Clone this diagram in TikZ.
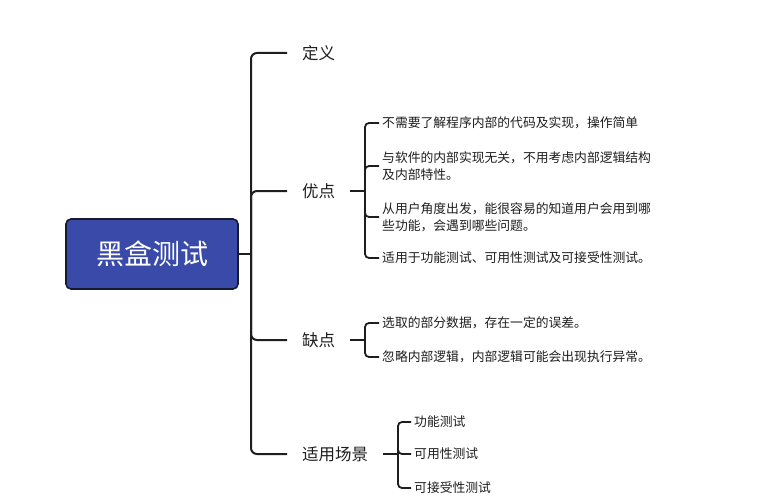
\documentclass[tikz,border=0pt]{standalone}
\usepackage{fontspec}
\newfontfamily\cjk{Noto Sans CJK SC}
\definecolor{boxfill}{RGB}{58,74,168}
\definecolor{boxline}{RGB}{22,26,48}
\definecolor{ink}{RGB}{30,30,30}
\begin{document}
\begin{tikzpicture}[x=1pt,y=-1pt,
  conn/.style={line width=2pt,draw=ink,rounded corners=6pt},
  sconn/.style={line width=1.8pt,draw=ink,rounded corners=4pt},
  rootbox/.style={draw=boxline,line width=1.6pt,fill=boxfill,rounded corners=5pt,
    minimum width=172pt,minimum height=70pt,font=\cjk\fontsize{28}{32}\selectfont,text=white},
  lvone/.style={anchor=west,inner xsep=15pt,inner ysep=2pt,font=\cjk\fontsize{16.5}{19}\selectfont,text=ink},
  item/.style={anchor=west,inner xsep=3pt,inner ysep=1pt,align=left,font=\cjk\fontsize{12.8}{17}\selectfont,text=ink}
]
\useasboundingbox (0,0) rectangle (766,500);
\fill[white] (0,0) rectangle (766,500);

\node[rootbox] (root) at (152,254) {黑盒测试};

\node[lvone] (def) at (287,53) {定义};
\node[lvone] (pro) at (287,191) {优点};
\node[lvone] (con) at (287,340) {缺点};
\node[lvone] (use) at (287,454) {适用场景};

\coordinate (j) at (251,254);
\draw[conn] (root.east) -- (j);
\draw[conn] (j) |- (def.west);
\draw[conn] (j) |- (pro.west);
\draw[conn] (j) |- (con.west);
\draw[conn] (j) |- (use.west);

% pros
\node[item] (p1) at (379,123) {不需要了解程序内部的代码及实现，操作简单};
\node[item] (p2) at (379,166) {与软件的内部实现无关，不用考虑内部逻辑结构\\及内部特性。};
\node[item] (p3) at (379,217) {从用户角度出发，能很容易的知道用户会用到哪\\些功能，会遇到哪些问题。};
\node[item] (p4) at (379,258) {适用于功能测试、可用性测试及可接受性测试。};
\coordinate (bp) at (365,191);
\draw[sconn] (pro.east) -- (bp);
\draw[sconn] (bp) |- (p1.west);
\draw[sconn] (bp) |- (p2.west);
\draw[sconn] (bp) |- (p3.west);
\draw[sconn] (bp) |- (p4.west);

% cons
\node[item] (c1) at (379,323) {选取的部分数据，存在一定的误差。};
\node[item] (c2) at (379,357) {忽略内部逻辑，内部逻辑可能会出现执行异常。};
\coordinate (bc) at (365,340);
\draw[sconn] (con.east) -- (bc);
\draw[sconn] (bc) |- (c1.west);
\draw[sconn] (bc) |- (c2.west);

% scenarios
\node[item] (u1) at (411,422) {功能测试};
\node[item] (u2) at (411,454) {可用性测试};
\node[item] (u3) at (411,488) {可接受性测试};
\coordinate (bu) at (398,454);
\draw[sconn] (use.east) -- (bu);
\draw[sconn] (bu) |- (u1.west);
\draw[sconn] (bu) |- (u2.west);
\draw[sconn] (bu) |- (u3.west);
\end{tikzpicture}
\end{document}
